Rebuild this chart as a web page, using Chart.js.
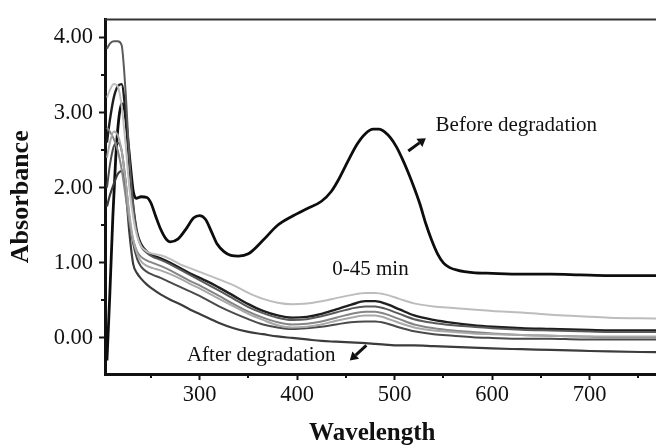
<!DOCTYPE html>
<html>
<head>
<meta charset="utf-8">
<script src="https://cdn.jsdelivr.net/npm/chart.js@4/dist/chart.umd.min.js"></script>
<style>
  html, body { margin: 0; padding: 0; background: #fff; }
  #wrap { width: 656px; height: 447px; }
</style>
</head>
<body>
<div id="wrap"><canvas id="c" width="656" height="447"></canvas></div>
<script>
// ---------- data ----------
const xTickValues = [300, 400, 500, 600, 700];
const xTickLabels = ['300', '400', '500', '600', '700'];
const xMinorTicks = [250, 350, 450, 550, 650, 750];
const yTickValues = [0, 1, 2, 3, 4];
const yTickLabels = ['0.00', '1.00', '2.00', '3.00', '4.00'];
const yMinorTicks = [0.5, 1.5, 2.5, 3.5];

const wlBefore = [205, 208, 211, 214, 217, 220, 223, 226, 229, 232, 235, 240, 246, 250, 255, 260, 265, 270, 278, 286, 294, 300, 306, 312, 318, 325, 332, 340, 350, 365, 380, 395, 410, 425, 435, 443, 452, 461, 470, 478, 484, 490, 496, 502, 508, 514, 520, 526, 532, 538, 544, 550, 556, 565, 580, 600, 630, 660, 690, 720, 768];
const absBefore = [-0.3, 0.6, 1.6, 2.4, 2.9, 3.12, 3.05, 2.7, 2.3, 1.95, 1.86, 1.88, 1.87, 1.8, 1.62, 1.45, 1.33, 1.28, 1.32, 1.45, 1.6, 1.63, 1.58, 1.42, 1.25, 1.15, 1.1, 1.09, 1.12, 1.3, 1.5, 1.62, 1.72, 1.82, 1.95, 2.12, 2.35, 2.57, 2.72, 2.78, 2.78, 2.74, 2.66, 2.54, 2.38, 2.2, 2.0, 1.78, 1.52, 1.3, 1.12, 1.0, 0.94, 0.9, 0.87, 0.86, 0.85, 0.85, 0.84, 0.83, 0.83];

const wl = [205, 208, 212, 216, 220, 224, 228, 232, 236, 240, 246, 252, 260, 270, 280, 290, 300, 310, 320, 335, 350, 365, 380, 395, 410, 425, 440, 455, 470, 480, 490, 505, 520, 540, 560, 580, 600, 630, 660, 690, 720, 768];
const absT1 = [3.2, 3.3, 3.38, 3.35, 3.1, 2.6, 2.0, 1.6, 1.35, 1.22, 1.15, 1.12, 1.1, 1.05, 0.98, 0.93, 0.88, 0.83, 0.78, 0.7, 0.6, 0.52, 0.47, 0.45, 0.46, 0.49, 0.53, 0.57, 0.6, 0.6, 0.58, 0.52, 0.46, 0.42, 0.4, 0.38, 0.36, 0.34, 0.31, 0.29, 0.27, 0.26];
const absT2 = [2.6, 2.9, 3.2, 3.35, 3.38, 3.0, 2.3, 1.75, 1.4, 1.25, 1.15, 1.1, 1.06, 1.0, 0.93, 0.86, 0.8, 0.74, 0.67, 0.56, 0.45, 0.36, 0.3, 0.27, 0.28, 0.32, 0.38, 0.44, 0.49, 0.49, 0.46, 0.38, 0.3, 0.24, 0.2, 0.17, 0.15, 0.13, 0.12, 0.11, 0.1, 0.1];
const absT3 = [3.85, 3.92, 3.95, 3.95, 3.9, 3.3, 2.4, 1.75, 1.38, 1.22, 1.13, 1.08, 1.04, 0.98, 0.91, 0.84, 0.77, 0.7, 0.63, 0.52, 0.41, 0.33, 0.27, 0.24, 0.25, 0.29, 0.34, 0.39, 0.42, 0.42, 0.39, 0.32, 0.25, 0.2, 0.17, 0.15, 0.13, 0.11, 0.1, 0.09, 0.08, 0.08];
const absT4 = [2.8, 2.75, 2.65, 2.5, 2.25, 1.9, 1.55, 1.3, 1.15, 1.08, 1.03, 1.0, 0.96, 0.9, 0.83, 0.76, 0.7, 0.63, 0.56, 0.45, 0.35, 0.27, 0.21, 0.18, 0.19, 0.22, 0.27, 0.32, 0.35, 0.35, 0.32, 0.25, 0.18, 0.13, 0.1, 0.08, 0.06, 0.04, 0.03, 0.02, 0.01, 0.01];
const absT5 = [2.4, 2.6, 2.75, 2.7, 2.5, 2.1, 1.65, 1.3, 1.12, 1.02, 0.96, 0.93, 0.9, 0.85, 0.79, 0.72, 0.66, 0.59, 0.52, 0.42, 0.32, 0.24, 0.17, 0.14, 0.15, 0.18, 0.23, 0.27, 0.3, 0.3, 0.27, 0.2, 0.14, 0.1, 0.08, 0.06, 0.05, 0.04, 0.03, 0.02, 0.02, 0.02];
const absT6 = [2.0, 2.3, 2.55, 2.6, 2.5, 2.1, 1.6, 1.25, 1.05, 0.95, 0.88, 0.84, 0.8, 0.74, 0.68, 0.62, 0.56, 0.49, 0.42, 0.33, 0.25, 0.18, 0.14, 0.12, 0.13, 0.15, 0.18, 0.21, 0.22, 0.22, 0.2, 0.14, 0.09, 0.05, 0.03, 0.01, 0.0, -0.01, -0.01, -0.02, -0.02, -0.02];
const absAfter = [1.75, 1.9, 2.05, 2.18, 2.22, 2.0, 1.4, 0.98, 0.86, 0.79, 0.71, 0.65, 0.58, 0.51, 0.45, 0.38, 0.32, 0.26, 0.2, 0.13, 0.08, 0.05, 0.02, 0.0, -0.02, -0.04, -0.05, -0.06, -0.07, -0.08, -0.09, -0.1, -0.1, -0.11, -0.12, -0.13, -0.14, -0.15, -0.16, -0.17, -0.18, -0.19];

// texts, anchored in data units
const xTitle = { text: 'Wavelength', x: 477, y: -0.48 };
const notes = [
  { text: 'Before degradation', x: 542, y: 2.76, base: 'alphabetic' },
  { text: '0-45 min', x: 436, y: 0.91, base: 'middle' },
  { text: 'After degradation', x: 287, y: -0.24, base: 'middle' }
];
const arrows = [
  { from: [514, 2.49], to: [532, 2.66] },
  { from: [471, -0.10], to: [454, -0.30] }
];

// ---------- build ----------
const pts = (xs, ys) => xs.map((x, i) => ({ x: x, y: ys[i] }));
const series = [
  { label: 't1', xs: wl, ys: absT1, color: '#bdbdbd', w: 2 },
  { label: 't5', xs: wl, ys: absT5, color: '#a8a8a8', w: 2 },
  { label: 't4', xs: wl, ys: absT4, color: '#858585', w: 2 },
  { label: 't3', xs: wl, ys: absT3, color: '#5a5a5a', w: 2 },
  { label: 't6', xs: wl, ys: absT6, color: '#4a4a4a', w: 2 },
  { label: 't2', xs: wl, ys: absT2, color: '#1e1e1e', w: 2.4 },
  { label: 'after', xs: wl, ys: absAfter, color: '#3c3c3c', w: 2.2 },
  { label: 'before', xs: wlBefore, ys: absBefore, color: '#0d0d0d', w: 2.8 }
];

const serif = "'Liberation Serif', 'Times New Roman', serif";

const overlay = {
  id: 'overlay',
  afterDraw(chart) {
    const ctx = chart.ctx, xs = chart.scales.x, ys = chart.scales.y, a = chart.chartArea;
    ctx.save();
    // top frame line
    ctx.strokeStyle = '#333';
    ctx.lineWidth = 2;
    ctx.beginPath();
    ctx.moveTo(a.left, a.top);
    ctx.lineTo(a.right, a.top);
    ctx.stroke();
    // minor ticks
    ctx.strokeStyle = '#111';
    ctx.lineWidth = 2;
    xMinorTicks.forEach(v => {
      const px = Math.round(xs.getPixelForValue(v));
      if (px > a.right) return;
      ctx.beginPath();
      ctx.moveTo(px, a.bottom);
      ctx.lineTo(px, a.bottom + 4);
      ctx.stroke();
    });
    yMinorTicks.forEach(v => {
      const py = Math.round(ys.getPixelForValue(v));
      ctx.beginPath();
      ctx.moveTo(a.left, py);
      ctx.lineTo(a.left - 4, py);
      ctx.stroke();
    });
    // x title
    ctx.fillStyle = '#111';
    ctx.font = "bold 25px " + serif;
    ctx.textAlign = 'center';
    ctx.textBaseline = 'alphabetic';
    ctx.fillText(xTitle.text, xs.getPixelForValue(xTitle.x), ys.getPixelForValue(xTitle.y) + 66);
    // notes
    ctx.font = "21px " + serif;
    ctx.textAlign = 'left';
    notes.forEach(n => {
      ctx.textBaseline = n.base;
      ctx.fillText(n.text, xs.getPixelForValue(n.x), ys.getPixelForValue(n.y));
    });
    // arrows
    arrows.forEach(ar => {
      const x1 = xs.getPixelForValue(ar.from[0]), y1 = ys.getPixelForValue(ar.from[1]);
      const x2 = xs.getPixelForValue(ar.to[0]), y2 = ys.getPixelForValue(ar.to[1]);
      const ang = Math.atan2(y2 - y1, x2 - x1);
      const hl = 8, hw = 5;
      const bx = x2 - hl * Math.cos(ang), by = y2 - hl * Math.sin(ang);
      ctx.strokeStyle = '#111';
      ctx.lineWidth = 3;
      ctx.beginPath();
      ctx.moveTo(x1, y1);
      ctx.lineTo(bx, by);
      ctx.stroke();
      ctx.beginPath();
      ctx.moveTo(x2, y2);
      ctx.lineTo(bx + hw * Math.sin(ang), by - hw * Math.cos(ang));
      ctx.lineTo(bx - hw * Math.sin(ang), by + hw * Math.cos(ang));
      ctx.closePath();
      ctx.fill();
    });
    ctx.restore();
  }
};

new Chart(document.getElementById('c'), {
  type: 'line',
  data: {
    datasets: series.map(s => ({
      label: s.label,
      data: pts(s.xs, s.ys),
      borderColor: s.color,
      borderWidth: s.w,
      pointRadius: 0,
      fill: false,
      cubicInterpolationMode: 'monotone'
    }))
  },
  options: {
    responsive: false,
    animation: false,
    devicePixelRatio: 1,
    layout: { padding: { left: 0, top: 15, right: 0, bottom: 0 } },
    plugins: { legend: { display: false }, tooltip: { enabled: false } },
    scales: {
      x: {
        type: 'linear',
        min: 203,
        max: 768,
        afterBuildTicks: s => { s.ticks = xTickValues.map(v => ({ value: v })); },
        afterFit: s => { s.height = 73; },
        ticks: {
          autoSkip: false,
          maxRotation: 0,
          padding: 2,
          color: '#111',
          font: { family: serif, size: 22.5 },
          callback: (v) => { const i = xTickValues.indexOf(v); return i >= 0 ? xTickLabels[i] : ''; }
        },
        grid: { drawOnChartArea: false, drawTicks: true, tickLength: 6, tickWidth: 2, tickColor: '#111' },
        border: { display: true, color: '#111', width: 3 }
      },
      y: {
        type: 'linear',
        min: -0.48,
        max: 4.24,
        afterBuildTicks: s => { s.ticks = yTickValues.map(v => ({ value: v })); },
        afterFit: s => { s.width = 105; },
        ticks: {
          autoSkip: false,
          padding: 6,
          color: '#111',
          font: { family: serif, size: 22.5 },
          callback: (v) => { const i = yTickValues.indexOf(v); return i >= 0 ? yTickLabels[i] : ''; }
        },
        grid: { drawOnChartArea: false, drawTicks: true, tickLength: 6, tickWidth: 2, tickColor: '#111' },
        border: { display: true, color: '#111', width: 3 },
        title: { display: true, text: 'Absorbance', color: '#111', font: { family: serif, size: 26, weight: 'bold' }, padding: { top: 6, bottom: 0 } }
      }
    }
  },
  plugins: [overlay]
});
</script>
</body>
</html>
